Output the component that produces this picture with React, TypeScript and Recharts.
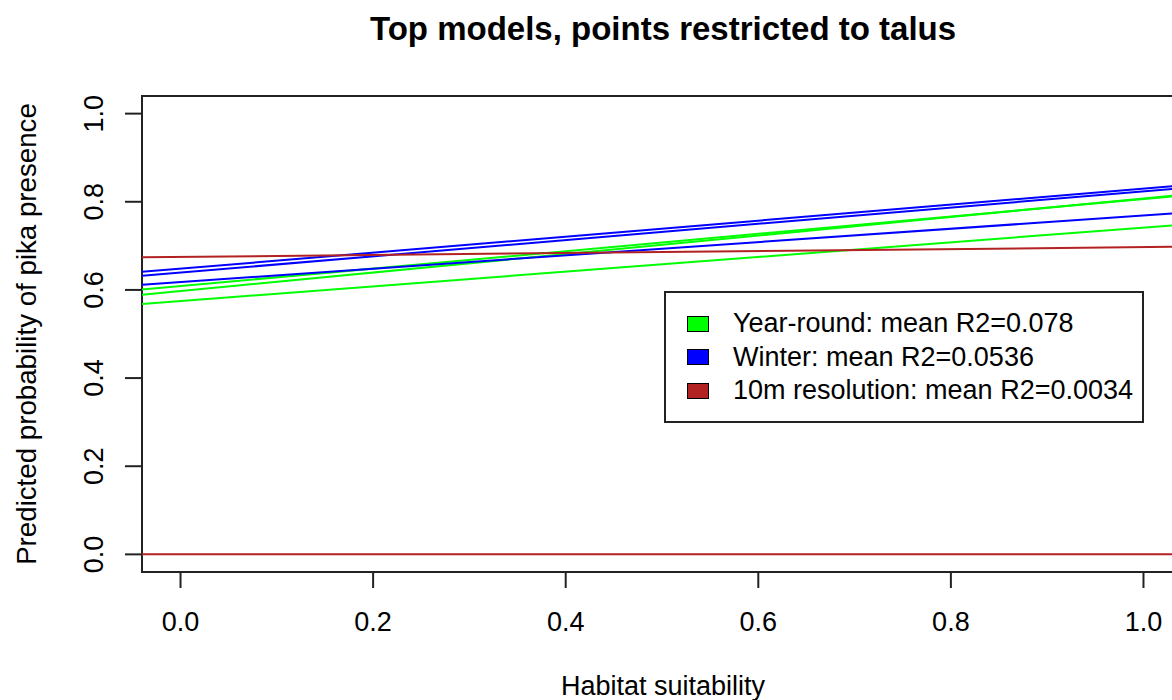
import { Legend, Line, LineChart, ReferenceArea, XAxis, YAxis } from 'recharts'

// Habitat suitability at the left and right edges of the plot region
const X_EDGES = [-0.04, 1.04]

// Predicted probability at each edge, one array per fitted model curve
const YEAR_ROUND_A = [0.601, 0.814]
const YEAR_ROUND_B = [0.589, 0.816]
const YEAR_ROUND_C = [0.568, 0.748]
const WINTER_A = [0.641, 0.837]
const WINTER_B = [0.632, 0.831]
const WINTER_C = [0.612, 0.775]
const RES10_A = [0.674, 0.698]
const RES10_B = [0.0, 0.0]

const X_TICKS = [0, 0.2, 0.4, 0.6, 0.8, 1.0]
const Y_TICKS = [0, 0.2, 0.4, 0.6, 0.8, 1.0]

const LEGEND_LABELS = [
  'Year-round: mean R2=0.078',
  'Winter: mean R2=0.0536',
  '10m resolution: mean R2=0.0034',
]
const GREEN = '#00ff00'
const BLUE = '#0000ff'
const RED = '#b22222'
const LEGEND_COLORS = [GREEN, BLUE, RED]

const SERIES = [
  { key: 'yrA', values: YEAR_ROUND_A, color: GREEN },
  { key: 'yrB', values: YEAR_ROUND_B, color: GREEN },
  { key: 'yrC', values: YEAR_ROUND_C, color: GREEN },
  { key: 'wA', values: WINTER_A, color: BLUE },
  { key: 'wB', values: WINTER_B, color: BLUE },
  { key: 'wC', values: WINTER_C, color: BLUE },
  { key: 'rA', values: RES10_A, color: RED },
  { key: 'rB', values: RES10_B, color: RED },
]

const data = X_EDGES.map((x, i) => {
  const row: Record<string, number> = { x }
  SERIES.forEach((s) => {
    row[s.key] = s.values[i]
  })
  return row
})

const FONT = '"Liberation Sans", Arial, sans-serif'

const XTick = ({ x, y, payload }: any) => (
  <text x={x} y={y} textAnchor="middle" fontFamily={FONT} fontSize={27} fill="#000">
    {Number(payload.value).toFixed(1)}
  </text>
)

const YTick = ({ x, y, payload }: any) => (
  <text
    x={x}
    y={y}
    transform={`rotate(-90, ${x}, ${y})`}
    textAnchor="middle"
    fontFamily={FONT}
    fontSize={27}
    fill="#000"
  >
    {Number(payload.value).toFixed(1)}
  </text>
)

const LegendBox = () => (
  <div
    style={{
      boxSizing: 'border-box',
      width: 480,
      height: 132,
      border: '2px solid #222',
      background: '#fff',
      paddingTop: 14,
      fontFamily: FONT,
      fontSize: 27,
      color: '#000',
    }}
  >
    {LEGEND_LABELS.map((label, i) => (
      <div key={label} style={{ display: 'flex', alignItems: 'center', height: 33.5 }}>
        <span
          style={{
            boxSizing: 'border-box',
            width: 22,
            height: 16,
            marginLeft: 21,
            marginRight: 24,
            background: LEGEND_COLORS[i],
            border: '1px solid #000',
          }}
        />
        <span style={{ lineHeight: '33.5px', whiteSpace: 'nowrap' }}>{label}</span>
      </div>
    ))}
  </div>
)

export default function App() {
  return (
    <div
      style={{
        position: 'absolute',
        left: 0,
        top: 0,
        width: 1172,
        height: 700,
        overflow: 'hidden',
        background: '#fff',
      }}
    >
      <LineChart
        width={1200}
        height={700}
        data={data}
        margin={{ top: 96, right: 18, bottom: 68, left: 82 }}
      >
        <XAxis
          type="number"
          dataKey="x"
          domain={[-0.04, 1.04]}
          ticks={X_TICKS}
          allowDataOverflow
          axisLine={false}
          tickSize={16}
          tickMargin={43}
          tickLine={{ stroke: '#222', strokeWidth: 2 }}
          tick={<XTick />}
          height={60}
        />
        <YAxis
          type="number"
          domain={[-0.04, 1.04]}
          ticks={Y_TICKS}
          allowDataOverflow
          axisLine={false}
          tickSize={17}
          tickMargin={22}
          tickLine={{ stroke: '#222', strokeWidth: 2 }}
          tick={<YTick />}
          width={60}
        />
        <ReferenceArea
          x1={-0.04}
          x2={1.04}
          y1={-0.04}
          y2={1.04}
          fill="none"
          stroke="#222"
          strokeWidth={2}
          ifOverflow="visible"
        />
        {SERIES.map((s) => (
          <Line
            key={s.key}
            type="linear"
            dataKey={s.key}
            stroke={s.color}
            strokeWidth={2}
            dot={false}
            activeDot={false}
            isAnimationActive={false}
          />
        ))}
        <Legend
          layout="vertical"
          align="center"
          verticalAlign="middle"
          content={<LegendBox />}
          wrapperStyle={{ position: 'absolute', left: 664, top: 291, width: 480, height: 132 }}
        />
      </LineChart>
      <svg
        width={1172}
        height={700}
        style={{ position: 'absolute', left: 0, top: 0, pointerEvents: 'none' }}
      >
        <text x={663} y={40} textAnchor="middle" fontFamily={FONT} fontSize={33} fontWeight="bold">
          Top models, points restricted to talus
        </text>
        <text x={663} y={695} textAnchor="middle" fontFamily={FONT} fontSize={27}>
          Habitat suitability
        </text>
        <text
          x={36}
          y={334}
          transform="rotate(-90, 36, 334)"
          textAnchor="middle"
          fontFamily={FONT}
          fontSize={27.7}
        >
          Predicted probability of pika presence
        </text>
      </svg>
    </div>
  )
}
